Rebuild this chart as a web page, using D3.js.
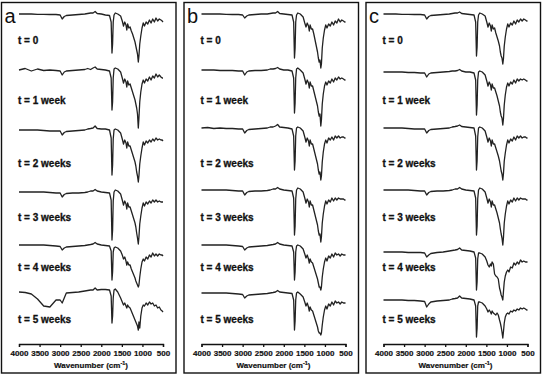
<!DOCTYPE html>
<html>
<head>
<meta charset="utf-8">
<script src="https://cdn.jsdelivr.net/npm/d3@7"></script>
<style>
  body { margin: 0; background: #fff; }
  text { font-family: "Liberation Sans", Arial, sans-serif; }
</style>
</head>
<body>
<svg id="chart" width="546" height="376"></svg>
<script>
// wavenumber grid (cm-1) shared by every spectrum
const wavenumbers = [4000, 3850, 3700, 3550, 3400, 3250, 3100, 3000, 2950, 2900, 2850, 2700, 2550, 2400,
  2330, 2260, 2200, 2150, 2100, 2000, 1900, 1800, 1760, 1740, 1725, 1710, 1690, 1660, 1600, 1530, 1490,
  1460, 1430, 1400, 1380, 1360, 1330, 1300, 1270, 1240, 1210, 1180, 1160, 1140, 1120, 1100, 1085, 1065,
  1040, 1010, 980, 950, 910, 870, 830, 790, 750, 710, 670, 630, 590, 550, 520, 500];

const timeLabels = ['t = 0', 't = 1 week', 't = 2 weeks', 't = 3 weeks', 't = 4 weeks', 't = 5 weeks'];
const panelLetters = ['a', 'b', 'c'];
const tickValues = [4000, 3500, 3000, 2500, 2000, 1500, 1000, 500];

// transmittance (%, relative)
const a0 = [100,100,100,99.7,99.7,99.5,99.5,99,95,97.5,98.5,99,99.5,100,100.5,101,101,102.5,100.5,100,99,98.5,92,61,70,92,99,101,100,98,93,88,92,89,84,90,86,87,83,80,76,72,68,64,60,52,58,70,78,86,91,88,92,90,94,91,95,92,96,93,95,94,93,92];
const a1 = [100,101.5,99,101,99.5,100,99.5,99,95,98,99,99.5,100,100.5,101.5,100.5,102,103,101,100.5,100,99,92,60,68,92,101,102,101,98,92,87,91,88,83,89,85,86,82,78,74,70,66,62,56,42,52,68,78,86,90,87,91,89,93,90,94,92,96,93,95,93,92,92];
const a2 = [100,100,100,100,99.5,99,99,99,95,97.5,98.5,99,99.5,100,101,101.5,102,104,101.5,101,101,100,92,55,65,91,100,101,100,97,91,86,90,87,82,88,84,84,80,76,72,68,64,58,54,48,54,66,74,82,88,85,89,87,90,88,91,89,92,90,91,90,90,89];
const a3 = [100,100,100,100,100,99.5,99,99,95,97.5,98.5,99,99,99.5,100,101,101,102.5,101,100,99.5,99,92,52,62,91,100,102,101,98,92,87,91,88,83,89,85,85,81,77,73,69,65,59,54,48,55,68,76,84,89,86,90,88,91,89,92,90,92,90,91,90,90,90];
const a4 = [100,100,100,100,100,99.5,99,98.5,95,97,98,98.5,99,99.5,100,100.5,101,102.5,101,100,99.5,99,94,65,73,93,97,98,97,94,90,86,88,84,80,83,80,80,76,73,70,67,64,62,60,58,60,68,76,83,86,84,88,86,90,88,92,89,91,89,91,90,90,89];
const a5 = [100,99.5,98,93,86,85,92,92,89,94,99,99.5,100,101,101.5,102,102,104,102,102.5,102.5,102,96,69,76,94,102,103,100,94,90,87,89,86,84,87,85,84,81,78,75,72,70,68,66,62,70,64,76,84,87,86,89,87,90,88,89,86,87,84,85,82,81,80];

const b0 = [100,100,100,100,99.7,99.5,99.5,99,96,98,99,99.5,100,100,100.5,101,101,102.5,100.5,100,99.5,99,92,56,66,92,99,101,100,97,91,87,91,88,83,89,85,85,80,74,68,62,56,52,54,46,50,66,76,84,89,86,90,88,92,89,93,91,95,92,94,93,92,92];
const b1 = [100,100,100,99.5,99.5,99.5,99,99,95,98,99,99.5,99.5,100,101,101,101.5,102.5,101,100,100,99,92,57,67,92,101,102,100,97,91,86,90,87,82,88,84,84,79,74,69,64,58,54,56,44,50,66,76,84,88,85,89,87,91,88,92,90,93,91,92,91,90,90];
const b2 = [100,100.5,99.5,100,99.5,99.5,99,99,95,97.5,98.5,99,99.5,100,101,101,102,103.5,101,100.5,100,99,92,58,67,92,100,101,100,97,91,86,90,87,82,88,84,84,79,74,69,64,58,54,56,48,52,66,76,84,88,85,90,88,91,88,92,90,92,90,91,91,90,90];
const b3 = [100,100,100,100,100,99.5,99,99,95,97.5,98.5,99,99,99.5,100,101,101,102.5,101,100,99.5,99,92,55,64,91,100,102,101,98,92,87,91,88,83,89,85,85,80,75,70,65,59,55,56,48,53,67,76,84,89,86,90,88,92,89,92,90,92,91,91,91,90,90];
const b4 = [100,100,100,100,100,99.5,99,98.5,95,97,98,98.5,99,99.5,100,100.5,101,102.5,101,100,99.5,99,93,65,73,93,99,100,99,96,91,87,90,86,82,86,83,82,78,74,70,66,62,58,58,55,58,68,76,83,87,84,89,87,91,88,92,90,91,89,91,90,90,90];
const b5 = [100,100,100,100,100,99.5,99,98.5,95,97,98,98.5,99,99.5,100,100.5,101,102.5,101,100.5,100,99.5,93,63,72,93,100,101,99,96,91,87,90,86,82,86,83,82,78,74,70,66,62,60,60,58,60,68,76,83,87,84,89,87,91,88,92,90,91,89,91,90,90,90];

const c0 = [100,100,100,99.7,99.7,99.5,99.5,99,95,97.5,98.5,99,99.5,100,100.5,101,101,102,100.5,100,99.5,99,92,58,67,92,99,101,100,98,92,87,91,88,83,89,85,86,81,77,73,68,62,58,56,50,55,68,77,85,90,87,91,89,93,90,94,92,95,93,95,94,93,93];
const c1 = [100,100,100,100,99.5,99.5,99,99,95,98,99,99.5,100,100.5,101,101,101.5,102.5,101,100,100,99,92,57,67,92,100,101,100,97,91,86,90,87,82,88,84,84,80,76,71,66,60,56,54,47,53,67,77,85,89,86,90,88,92,89,93,91,93,92,93,92,91,91];
const c2 = [100,100,100,100,99.5,99,99,99,95,97.5,98.5,99,99.5,100,101,101.5,102,103,101.5,101,100.5,100,92,58,67,91,100,101,100,97,91,86,90,87,82,88,84,84,80,76,72,67,62,57,54,48,54,67,75,83,88,85,89,87,91,88,92,90,92,90,91,91,90,90];
const c3 = [100,100,100,100,100,99.5,99,99,95,97.5,98.5,99,99,99.5,100,101,101,102.5,101,100,99.5,99,92,55,64,91,100,102,101,98,92,87,91,88,83,89,85,85,81,77,72,67,61,56,52,45,52,67,76,84,89,86,90,88,92,89,92,90,92,91,91,91,90,90];
const c4 = [100,100,100,100,99.5,99.5,99.5,99,95,97,98.5,99.5,100,101,101.5,102,102.5,104,102,101.5,101,100,94,62,70,93,99,99,98,95,91,87,85,88,86,90,88,78,76,75,73,64,61,57,55,52,60,70,76,80,82,80,85,84,89,87,90,88,92,90,91,90,90,90];
const c5 = [100,100,100,100,99.5,99.5,99,98.5,93,96,98,99,99.5,100,101,101.5,102,104,102,101.5,101,100,94,63,72,94,98,98,97,94,91,88,90,88,86,89,87,86,85,87,85,80,77,73,68,62,68,77,83,86,87,86,89,88,90,89,91,90,92,91,92,91,90,90];

const panelSpectra = [[a0, a1, a2, a3, a4, a5], [b0, b1, b2, b3, b4, b5], [c0, c1, c2, c3, c4, c5]];

// layout
const panelX = [1.5, 184, 366];
const panelW = 174.5;
const panelTop = 2.5, panelBottom = 373;
const baselines = [
  [14, 70, 130, 192, 245, 292],
  [14, 70, 128, 190, 245, 293],
  [14, 72, 128, 190, 252, 300],
];
const labelY = [40, 100, 163, 217, 267, 319];
const axisY = 344;

const svg = d3.select('#chart');

panelSpectra.forEach((spectra, p) => {
  const left = panelX[p];
  const g = svg.append('g');

  g.append('rect')
    .attr('x', left).attr('y', panelTop)
    .attr('width', panelW).attr('height', panelBottom - panelTop)
    .attr('fill', 'none')
    .attr('stroke', '#111')
    .attr('stroke-width', 1.4);

  const x = d3.scaleLinear().domain([4000, 500]).range([left + 17.5, left + 161.5]);

  spectra.forEach((values, i) => {
    const y = d3.scaleLinear().domain([100, 0]).range([baselines[p][i], baselines[p][i] + 100]);
    const line = d3.line()
      .x((d, j) => x(wavenumbers[j]))
      .y(d => y(d));
    g.append('path')
      .datum(values)
      .attr('d', line)
      .attr('fill', 'none')
      .attr('stroke', '#222')
      .attr('stroke-width', 1.3)
      .attr('stroke-linejoin', 'round');

    g.append('text')
      .attr('x', left + 16.5)
      .attr('y', labelY[i] + 3.5)
      .attr('font-size', 10)
      .attr('font-weight', 'bold')
      .attr('fill', '#111')
      .attr('stroke', '#111')
      .attr('stroke-width', 0.3)
      .text(timeLabels[i]);
  });

  g.append('text')
    .attr('x', left + 3)
    .attr('y', 23)
    .attr('font-size', 20)
    .attr('fill', '#111')
    .text(panelLetters[p]);

  const axis = d3.axisBottom(x)
    .tickValues(tickValues)
    .tickSize(3)
    .tickPadding(3)
    .tickFormat(d3.format('d'));

  const ag = g.append('g')
    .attr('transform', `translate(0,${axisY})`)
    .call(axis);
  ag.select('.domain').attr('stroke', '#111').attr('stroke-width', 1.3);
  ag.selectAll('.tick line').attr('stroke', '#111').attr('stroke-width', 1.3);
  ag.selectAll('.tick text')
    .attr('font-size', 8)
    .attr('font-weight', 'bold')
    .attr('font-family', '"Liberation Sans", Arial, sans-serif')
    .attr('fill', '#111')
    .attr('stroke', '#111')
    .attr('stroke-width', 0.2);

  const title = g.append('text')
    .attr('x', (x(4000) + x(500)) / 2)
    .attr('y', 368)
    .attr('text-anchor', 'middle')
    .attr('font-size', 8)
    .attr('font-weight', 'bold')
    .attr('fill', '#111')
    .attr('stroke', '#111')
    .attr('stroke-width', 0.2);
  title.append('tspan').text('Wavenumber (cm');
  title.append('tspan').attr('font-size', 5.5).attr('dy', -3).text('-1');
  title.append('tspan').attr('dy', 3).text(')');
});
</script>
</body>
</html>
